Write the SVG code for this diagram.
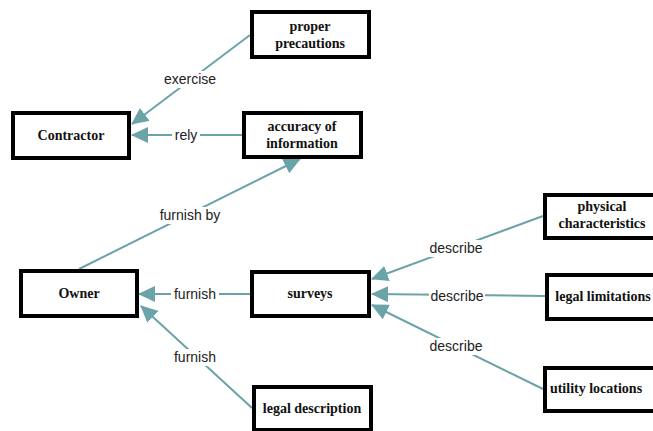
<svg xmlns="http://www.w3.org/2000/svg" width="653" height="431" viewBox="0 0 653 431">
<style>
.n rect{fill:#fff;stroke:#000;stroke-width:4}
.n text{font-family:"Liberation Serif","Times New Roman","DejaVu Serif",serif;font-weight:bold;font-size:14px;text-anchor:middle;fill:#111}
.e line{stroke:#6aa3a8;stroke-width:2;marker-end:url(#ah)}
.l rect{fill:#fff}
.l text{font-family:"Liberation Sans",Arial,sans-serif;font-size:14px;text-anchor:middle;fill:#222}
</style>
<defs>
<marker id="ah" markerUnits="userSpaceOnUse" markerWidth="18" markerHeight="16" refX="16" refY="8" orient="auto">
<path d="M0,0 L17,8 L0,16 Z" fill="#6aa3a8"/>
</marker>
</defs>
<rect width="653" height="431" fill="#fff"/>
<g id="connectors" class="e">
<line x1="250" y1="35" x2="132" y2="124"/>
<line x1="242" y1="135" x2="132" y2="135"/>
<line x1="79" y1="269" x2="300" y2="159"/>
<line x1="250" y1="294" x2="139" y2="294"/>
<line x1="252" y1="408" x2="141" y2="306"/>
<line x1="543" y1="216" x2="372" y2="279"/>
<line x1="545" y1="296" x2="372" y2="294"/>
<line x1="543" y1="389" x2="372" y2="305"/>
</g>
<g id="labels" class="l">
<rect x="162" y="71" width="56" height="17"/><text x="190" y="84">exercise</text>
<rect x="172" y="127" width="28" height="17"/><text x="186" y="140">rely</text>
<rect x="157" y="207" width="66" height="17"/><text x="190" y="220">furnish by</text>
<rect x="171" y="286" width="48" height="17"/><text x="195" y="299">furnish</text>
<rect x="171" y="349" width="48" height="17"/><text x="195" y="362">furnish</text>
<rect x="428" y="240" width="56" height="17"/><text x="456" y="253">describe</text>
<rect x="429" y="288" width="56" height="17"/><text x="457" y="301">describe</text>
<rect x="428" y="338" width="56" height="17"/><text x="456" y="351">describe</text>
</g>
<g id="proper_precautions" class="n"><rect x="252" y="12" width="117" height="45"/><text x="310" y="31">proper</text><text x="310" y="48">precautions</text></g>
<g id="contractor" class="n"><rect x="13" y="113" width="116" height="45"/><text x="71" y="140">Contractor</text></g>
<g id="accuracy_of_information" class="n"><rect x="244" y="113" width="117" height="44"/><text x="302" y="131">accuracy of</text><text x="302" y="148">information</text></g>
<g id="owner" class="n"><rect x="21" y="271" width="116" height="45"/><text x="79" y="298">Owner</text></g>
<g id="surveys" class="n"><rect x="252" y="272" width="117" height="44"/><text x="310" y="298">surveys</text></g>
<g id="legal_description" class="n"><rect x="254" y="387" width="117" height="43"/><text x="312" y="413">legal description</text></g>
<g id="physical_characteristics" class="n"><rect x="545" y="195" width="112" height="43"/><text x="602" y="211">physical</text><text x="602" y="228">characteristics</text></g>
<g id="legal_limitations" class="n"><rect x="547" y="275" width="110" height="44"/><text x="603" y="301">legal limitations</text></g>
<g id="utility_locations" class="n"><rect x="545" y="368" width="112" height="43"/><text x="596" y="393">utility locations</text></g>
</svg>
